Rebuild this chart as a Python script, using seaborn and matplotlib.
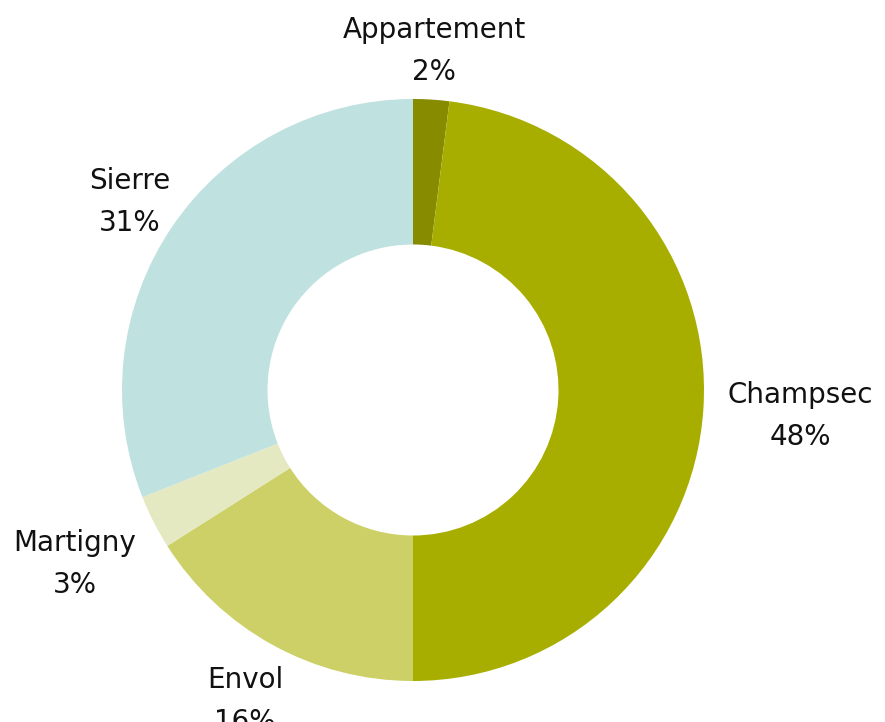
import matplotlib
matplotlib.use("Agg")
import matplotlib.pyplot as plt
import seaborn as sns

categories = ["Appartement", "Champsec", "Envol", "Martigny", "Sierre"]
values = [2, 48, 16, 3, 31]
colors = ["#878b00", "#a7ae00", "#ccd066", "#e4e9c2", "#bfe1e0"]
pct_labels = ["2%", "48%", "16%", "3%", "31%"]

# label anchor positions (pixels, from top-left)
label_pos = [(434, 30), (800, 395), (245, 680), (75, 543), (130, 181)]

sns.set_theme(style="white")
plt.rcParams['font.family'] = ['DejaVu Sans']

W, H = 885, 722
fig = plt.figure(figsize=(W / 100, H / 100), dpi=100)
ax = fig.add_axes([0, 0, 1, 1])

cx, cy, R = 413, H - 390, 291
palette = sns.color_palette(colors)
ax.pie(values, colors=palette, startangle=90, counterclock=False,
       center=(cx, cy), radius=R, frame=True,
       wedgeprops=dict(width=R * 0.5, linewidth=0))

for cat, pct, (x, y) in zip(categories, pct_labels, label_pos):
    ax.text(x, H - y, cat, ha="center", va="center", fontsize=20, color="#111111")
    ax.text(x, H - y - 42, pct, ha="center", va="center", fontsize=20, color="#111111")

ax.set_xlim(0, W)
ax.set_ylim(0, H)
ax.set_aspect("equal")
ax.axis("off")
fig.savefig("out.png", dpi=100)
